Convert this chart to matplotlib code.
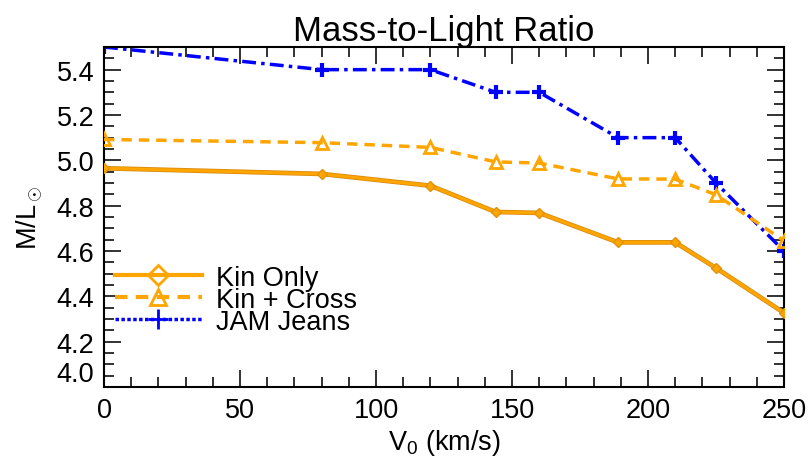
import matplotlib
matplotlib.use("Agg")
import matplotlib.pyplot as plt
from matplotlib.lines import Line2D
from matplotlib.ticker import MultipleLocator

plt.rcParams['font.family'] = ['Liberation Sans', 'DejaVu Sans']
plt.rcParams['mathtext.fontset'] = 'custom'
plt.rcParams['mathtext.rm'] = 'Liberation Sans'
plt.rcParams['mathtext.it'] = 'Liberation Sans'

# data
v0 = [0, 80, 120, 144, 160, 189, 210, 225, 250]
kin_only = [4.965, 4.94, 4.888, 4.772, 4.768, 4.638, 4.638, 4.525, 4.327]
kin_cross = [5.092, 5.078, 5.057, 4.993, 4.988, 4.918, 4.917, 4.848, 4.645]
jam_jeans = [5.5, 5.4, 5.4, 5.3, 5.3, 5.1, 5.1, 4.9, 4.6]

ORANGE = '#FFA500'
BLUE = '#0000FF'

fig = plt.figure(figsize=(8.09, 4.64), dpi=100)
ax = fig.add_axes([0.1286, 0.1638, 0.8405, 0.7328])

ax.plot(v0, kin_only, color='#D98C10', lw=3.4, zorder=3)
ax.plot(v0, kin_only, color=ORANGE, lw=2.2, marker='D', ms=5.5,
        mfc=ORANGE, mec='#E0920C', zorder=4)
ax.plot(v0, kin_cross, color=ORANGE, lw=2.5, ls=(0, (3, 2)), marker='^', ms=9,
        mfc='none', mec=ORANGE, mew=2, zorder=3)
ax.plot(v0, jam_jeans, color=BLUE, lw=2.5, ls=(0, (4, 1.5, 1, 1.5)), marker='+', ms=10,
        mec=BLUE, mew=3, zorder=2)

ax.set_xlim(0, 250)
ax.set_ylim(4.0, 5.5)
ax.xaxis.set_major_locator(MultipleLocator(50))
ax.xaxis.set_minor_locator(MultipleLocator(10))
ax.yaxis.set_minor_locator(MultipleLocator(0.05))
ax.set_yticks([4.0, 4.2, 4.4, 4.6, 4.8, 5.0, 5.2, 5.4])
ax.yaxis.set_major_formatter(plt.FormatStrFormatter('%.1f'))

ax.tick_params(which='both', direction='in', top=True, right=True,
               width=1.3, labelsize=19.5, color='#222222')
ax.tick_params(which='major', length=12, pad=7)
ax.tick_params(which='minor', length=7)
for s in ax.spines.values():
    s.set_linewidth(1.5)
# bottom y label sits above the axis corner, as in IDL output
ax.yaxis.get_major_ticks()[0].label1.set_verticalalignment('bottom')

ax.set_title('Mass-to-Light Ratio', fontsize=25, pad=5)
ax.set_xlabel(r'V$_0$ (km/s)', fontsize=19.5, labelpad=3)
ax.set_ylabel(r'M/L$_\odot$', fontsize=19.5, labelpad=8)

handles = [
    Line2D([], [], color=ORANGE, lw=3, marker='D', ms=10, mfc='none', mew=2),
    Line2D([], [], color=ORANGE, lw=3, ls=(0, (3, 2)), marker='^', ms=12, mfc='none', mew=2),
    Line2D([], [], color=BLUE, lw=2.5, ls=(0, (1, 0.7)), marker='+', ms=14, mew=2),
]
ax.legend(handles, ['Kin Only', 'Kin + Cross', 'JAM Jeans'], loc='upper left',
          bbox_to_anchor=(0.0, 0.392), frameon=False, fontsize=19.5, handlelength=3.2,
          handletextpad=0.55, labelspacing=-0.14, borderaxespad=0, borderpad=0.4)

fig.savefig('out.png', dpi=100)
